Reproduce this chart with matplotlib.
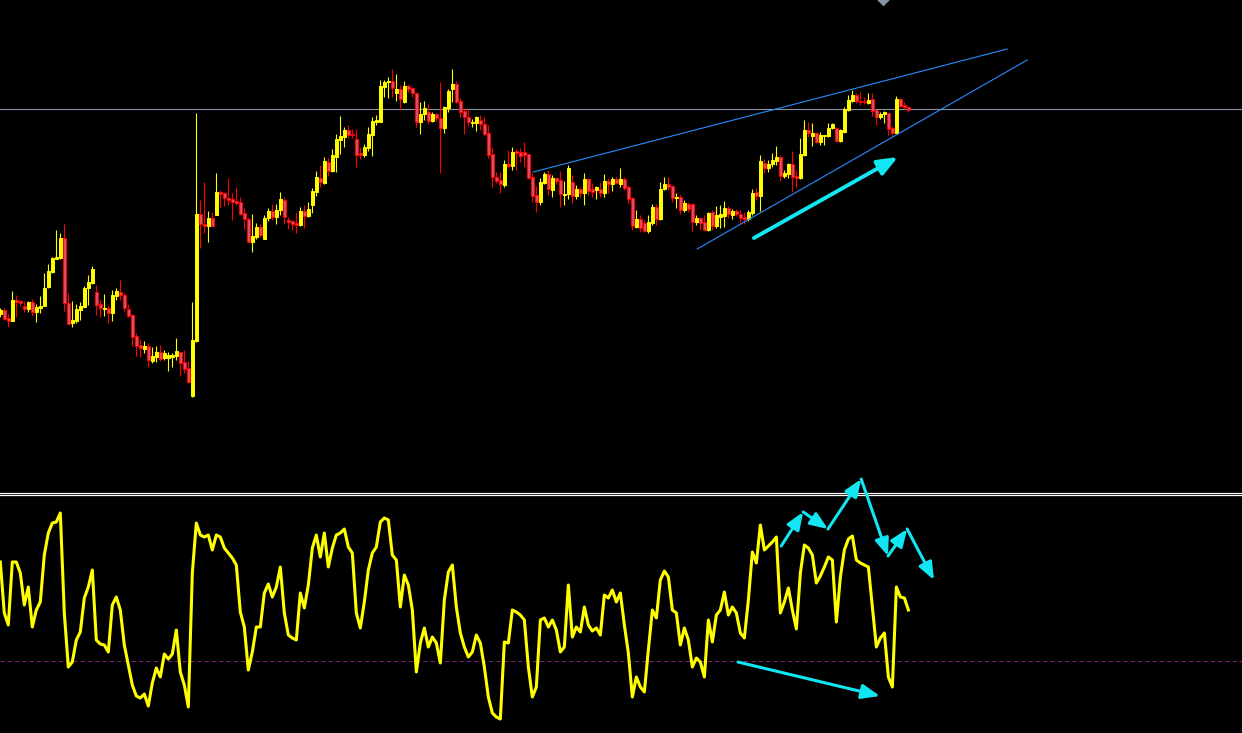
import numpy as np
import matplotlib
matplotlib.use('Agg')
import matplotlib.pyplot as plt

# price series, in chart units (screen rows, top = 0, so smaller = higher)
opens = [314, 310, 318, 321, 300, 301, 306, 309, 302, 312, 308, 306, 287, 272, 259, 258, 238, 303, 323, 321,
         310, 307, 288, 283, 292, 304, 309, 308, 313, 296, 292, 295, 309, 315, 336, 345, 349, 346, 361, 357,
         352, 358, 358, 357, 356, 352, 362, 368, 396, 341, 214, 224, 226, 218, 215, 192, 193, 198, 199, 201,
         202, 213, 219, 242, 237, 227, 239, 218, 211, 217, 210, 200, 220, 221, 223, 225, 211, 216, 205, 192,
         178, 183, 162, 171, 157, 140, 137, 130, 134, 139, 153, 155, 148, 135, 122, 122, 87, 82, 81, 93,
         89, 102, 86, 88, 93, 122, 114, 112, 121, 114, 118, 128, 108, 89, 84, 101, 111, 117, 122.5, 123,
         120, 124, 133, 154, 177, 180, 185, 164, 166, 151, 152, 152, 154, 177, 195, 202, 183, 174, 190, 178,
         180, 194.5, 194, 182, 196, 189, 193, 179, 189, 190, 189, 193, 181, 184, 179, 184, 179, 187, 198, 227,
         219, 223, 231, 223, 207, 219, 189, 184, 186, 198, 197, 210, 204, 204, 222, 218, 222, 230, 212, 226,
         217, 216, 208, 215, 211, 214, 217, 219, 213, 192, 196, 163, 168, 164, 161, 157, 176, 174, 164, 176,
         178, 155, 130, 136, 133, 142, 136, 136, 128, 128, 141, 132, 110, 101, 95, 101, 101, 103, 99, 110,
         117, 114, 113, 128, 133, 99, 105, 107]
highs = [308, 308, 314, 291, 295, 300, 301, 301, 299, 304, 296, 273, 264, 257, 230, 233, 224, 293, 301, 304,
         302, 286, 275, 266, 285, 300, 294, 305, 290, 288, 280, 293, 304, 314, 333, 339, 341, 343, 347, 346,
         345, 350, 352, 353, 338, 352, 350, 361, 302, 113, 200, 182, 211, 212, 173, 190, 192, 178, 193, 187,
         197, 208, 217, 214, 223, 224, 215, 208, 204, 204, 192, 197, 217, 220, 212, 207, 205, 202, 188, 171,
         165, 157, 158, 149, 134, 116, 127, 125, 129, 129, 147, 144, 127, 117, 115, 80, 80, 77, 69, 74,
         85, 81, 84, 87, 92, 102, 101, 104, 112, 113, 82, 106, 89, 69, 81, 98, 108, 109, 119, 116,
         115, 117, 125, 147, 172, 172, 160, 150, 147, 149, 148, 142, 154, 173, 186, 178, 172, 170, 175, 177,
         171, 181, 165, 175, 185, 187, 173, 178, 183, 186, 182, 174, 178, 177, 177, 168, 177, 185, 197, 210,
         215, 220, 215, 204, 204, 182, 177, 177, 185, 193, 194, 200, 202, 203, 215, 217, 215, 212, 210, 206,
         205, 201, 206, 209, 209, 210, 212, 210, 189, 188, 155, 159, 160, 153, 146, 155, 170, 163, 151, 170,
         138, 120, 122, 123, 132, 132, 135, 123, 123, 127, 129, 107, 95, 90, 93, 92, 97, 93, 93, 110,
         112, 111, 113, 126, 96, 98, 102, 106]
lows = [317, 320, 327, 321, 317, 306, 312, 312, 316, 322, 313, 306, 288, 273, 259, 259, 311, 324, 327, 323,
        320, 307, 305, 284, 315, 317, 316, 323, 321, 300, 300, 311, 317, 346, 356, 357, 353, 367, 363, 362,
        361, 360, 371, 367, 360, 376, 373, 383, 397, 342, 248, 233, 242, 226, 215, 207, 206, 205, 220, 205,
        215, 229, 242, 252, 239, 237, 239, 221, 220, 224, 215, 224, 229, 230, 233, 226, 228, 217, 213, 196,
        187, 184, 176, 172, 172, 154, 147, 138, 138, 167, 159, 157, 151, 156, 125, 122, 97, 98, 97, 101,
        110, 103, 92, 97, 127, 134, 120, 124, 122, 121, 173, 133, 112, 102, 103, 117, 134, 126, 127, 131,
        130, 136, 158, 187, 183, 193, 187, 168, 170, 170, 162, 167, 179, 202, 212, 205, 184, 195, 197, 184,
        207, 205, 199, 203, 199, 197, 205, 195, 197, 199, 197, 197, 193, 191, 184, 187, 190, 203, 230, 228,
        232, 232, 233, 225, 225, 220, 190, 190, 202, 208, 214, 212, 212, 231, 225, 230, 230, 231, 230, 228,
        228, 227, 218, 219, 216, 223, 224, 221, 215, 200, 211, 173, 172, 167, 165, 181, 178, 178, 192, 187,
        179, 156, 137, 146, 143, 145, 145, 137, 129, 142, 142, 133, 111, 102, 103, 105, 104, 104, 116, 125,
        119, 123, 135, 135, 133, 107, 109, 112]
closes = [310, 319, 321, 300, 302, 303, 309, 302, 312, 307, 306, 288, 271, 258, 257, 238, 303, 324, 320, 309,
          306, 288, 282, 269, 305, 308, 308, 313, 295, 291, 295, 308, 316, 337, 346, 348, 346, 360, 356, 352,
          359, 353, 355, 355, 351, 363, 369, 382, 340, 214, 224, 226, 218, 226, 192, 194, 198, 200, 202, 203,
          214, 219, 242, 236, 227, 235, 218, 211, 217, 210, 199, 217, 222, 224, 225, 211, 216, 209, 191, 177,
          182, 161, 171, 155, 139, 136, 130, 135, 135, 155, 155, 147, 134, 121, 120, 86, 82, 81, 88, 89,
          99, 86, 89, 93, 122, 114, 108, 121, 114, 118, 128, 107, 91, 84, 102, 112, 117, 122, 121.5, 117,
          124, 134, 155, 177, 181, 184, 164, 166, 152, 153, 156, 155, 178, 196, 202, 182, 174, 189, 178, 181,
          194, 193.5, 168, 196, 189, 193, 179, 191, 192, 187, 193, 181, 184, 179, 183, 179, 188, 199, 226, 219,
          228, 231, 222, 207, 219, 189, 184, 187, 198, 197, 210, 203, 209, 222, 218, 223, 230, 213, 226, 215,
          214, 208, 214, 211, 214, 218, 219, 212, 193, 196, 161, 168, 164, 160, 157, 176, 173, 164, 177, 178,
          154, 130, 133, 133, 142, 135, 135, 128, 124, 141, 130, 109, 100, 95, 101, 102, 102, 100, 111, 117,
          114, 112, 129, 133, 99, 106, 107, 110]

# oscillator (same screen-row units, lower panel)
osc = [562, 613, 625, 562, 562, 573, 605, 587, 627, 610, 602, 555, 533, 523, 522, 513, 613, 667, 662, 640,
       632, 598, 587, 570, 640, 644, 645, 652, 605, 597, 610, 645, 665, 685, 696, 698, 694, 706, 683, 668,
       677, 654, 659, 654, 630, 672, 685, 707, 573, 523, 535, 537, 535, 550, 535, 537, 548, 553, 558, 565,
       612, 627, 670, 652, 627, 627, 593, 584, 597, 587, 567, 613, 635, 638, 640, 593, 608, 585, 548, 535,
       557, 533, 567, 548, 535, 533, 529, 547, 553, 613, 628, 602, 570, 553, 547, 522, 518, 520, 555, 560,
       607, 575, 585, 610, 672, 643, 628, 647, 637, 643, 663, 600, 572, 565, 607, 633, 647, 657, 652, 635,
       643, 667, 697, 713, 717, 719, 642, 643, 610, 612, 615, 620, 667, 697, 687, 620, 618, 627, 620, 630,
       652, 647, 585, 637, 627, 632, 607, 625, 631, 628, 635, 595, 598, 590, 602, 593, 625, 653, 697, 677,
       687, 692, 650, 610, 618, 580, 571, 577, 610, 613, 645, 628, 640, 667, 658, 662, 677, 620, 642, 615,
       610, 592, 615, 607, 613, 633, 638, 600, 552, 563, 525, 550, 546, 542, 537, 613, 602, 588, 610, 629,
       573, 545, 548, 555, 583, 576, 567, 557, 560, 622, 577, 550, 539, 536, 560, 563, 565, 567, 607, 647,
       638, 633, 677, 687, 587, 597, 598, 610]

osc_level = 661
price_level = 109

# hand-drawn objects: (bar index, value) pairs
upper_line = [(133.2, 172), (251.7, 49)]
lower_line = [(174.2, 249), (256.7, 60)]
price_arrow = [(188.4, 238), (224.4, 157)]
osc_arrow = [(184.4, 662), (219.9, 696)]
osc_zigzag = [(195.2, 546), (200.7, 512), (206.9, 529), (215.2, 479), (221.9, 556), (226.7, 529), (233.4, 580)]

BULL = '#ffff00'
BEAR = '#ff0000'
AQUA = '#12e6f2'
TREND = '#2a8cff'
HEAD = '-|>,head_length=0.55,head_width=0.22'

o = np.array(opens, dtype=float)
h = np.array(highs, dtype=float)
l = np.array(lows, dtype=float)
c = np.array(closes, dtype=float)
x = np.arange(len(o))
bull = c <= o

fig = plt.figure(figsize=(12.42, 7.33), dpi=100, facecolor='black')
ax = fig.add_axes([0, 1 - 491 / 733, 1, 491 / 733])
ax2 = fig.add_axes([0, 0, 1, 237 / 733])
for a in (ax, ax2):
    a.set_facecolor('black')
    a.axis('off')
    a.set_xlim(-0.075, 310.4)
ax.set_ylim(491, 0)
ax2.set_ylim(733, 496)

# candles
ax.axhline(price_level, color='#8a94a6', lw=0.8, zorder=1)
ax.vlines(x[bull], h[bull], l[bull], color=BULL, lw=0.8, zorder=2)
ax.vlines(x[~bull], h[~bull], l[~bull], color=BEAR, lw=0.8, zorder=2)
body = np.maximum(np.abs(o - c), 0.8)
top = np.minimum(o, c)
ax.bar(x[bull], body[bull], bottom=top[bull], width=0.62, color=BULL, edgecolor=BULL, lw=0.7, zorder=3)
ax.bar(x[~bull], body[~bull], bottom=top[~bull], width=0.62, color='#e04a62', edgecolor=BEAR, lw=0.7, zorder=3)

# trend lines and arrow on price
for ln in (upper_line, lower_line):
    ax.plot([p[0] for p in ln], [p[1] for p in ln], color=TREND, lw=0.8, zorder=4)
ax.annotate('', xy=price_arrow[1], xytext=price_arrow[0],
            arrowprops=dict(arrowstyle=HEAD, color=AQUA, lw=2.8, mutation_scale=22, shrinkA=0, shrinkB=0))
ax.scatter([220.7], [-1], marker='D', s=36, color='#8a94a6', clip_on=False, zorder=5)

# oscillator panel
ax2.axhline(osc_level, color='#7a2478', lw=0.75, ls=(0, (4, 3)), zorder=1)
ax2.axhline(492.7, color='white', lw=0.9, clip_on=False, zorder=1)
ax2.axhline(494.7, color='white', lw=0.9, clip_on=False, zorder=1)
ax2.plot(np.arange(len(osc)), osc, color=BULL, lw=2.2, zorder=3)
ax2.annotate('', xy=osc_arrow[1], xytext=osc_arrow[0], annotation_clip=False,
             arrowprops=dict(arrowstyle=HEAD, color=AQUA, lw=2.2, mutation_scale=20, shrinkA=0, shrinkB=0))
for p0, p1 in zip(osc_zigzag[:-1], osc_zigzag[1:]):
    ax2.annotate('', xy=p1, xytext=p0, annotation_clip=False, zorder=6,
                 arrowprops=dict(arrowstyle=HEAD, color=AQUA, lw=2.2, mutation_scale=19, shrinkA=0, shrinkB=0))

fig.savefig('out.png', dpi=100, facecolor='black')
